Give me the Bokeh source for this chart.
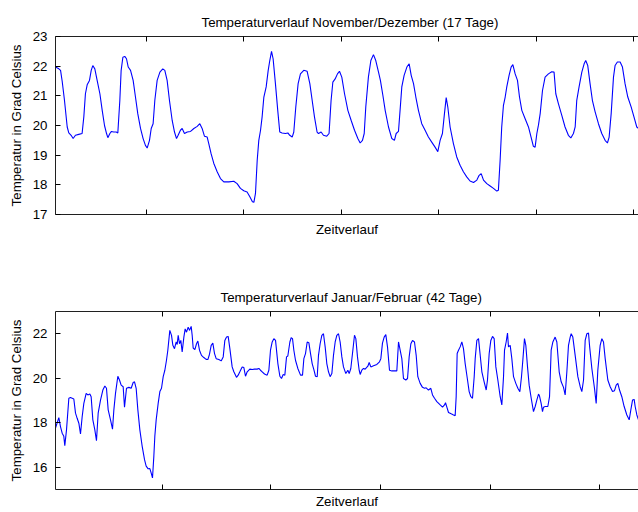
from bokeh.plotting import figure
from bokeh.models import LinearAxis, FixedTicker, Range1d
from bokeh.layouts import column
from bokeh.embed import file_html
from bokeh.resources import INLINE

# ---------------- data ----------------
nov_title = "Temperaturverlauf November/Dezember (17 Tage)"
jan_title = "Temperaturverlauf Januar/Februar (42 Tage)"
x_label = "Zeitverlauf"
y_label = "Temperatur in Grad Celsius"

# hours since start (17 days)
nov_hours = [
    0, 2.3, 3.5, 4.6, 6.2, 8.1, 9.2, 10.8, 12.2, 13.8,
    16.1, 18.4, 19.6, 20.7, 21.9, 23.5, 24.7, 25.8, 27.2, 28.8,
    30.7, 32.3, 33.9, 35.3, 36.2, 37.6, 38.7, 40.3, 42.0, 43.1,
    44.5, 45.4, 46.6, 47.9, 49.1, 50.3, 51.9, 53.7, 55.3, 56.9,
    58.8, 60.6, 62.2, 63.4, 65.0, 66.2, 67.5, 68.7, 70.3, 72.2,
    74.2, 75.6, 77.2, 78.8, 80.7, 82.3, 83.7, 84.8, 86.4, 87.6,
    89.2, 91.1, 93.4, 95.7, 98.0, 99.8, 101.4, 103.0, 104.9, 106.0,
    107.6, 109.5, 111.8, 114.1, 116.4, 119.9, 123.3, 125.6, 127.9, 130.2,
    132.5, 134.4, 136.2, 137.2, 138.3, 139.5, 140.6, 141.8, 142.9, 144.1,
    145.7, 147.1, 148.2, 149.4, 150.5, 152.1, 153.7, 155.1, 156.7, 159.0,
    160.7, 162.0, 163.7, 164.8, 166.2, 167.8, 169.4, 171.7, 174.0, 175.9,
    177.5, 179.1, 180.9, 181.9, 183.7, 185.3, 187.6, 189.2, 190.6, 191.8,
    193.4, 195.0, 196.4, 198.0, 199.9, 202.2, 204.5, 206.8, 209.1, 210.7,
    212.3, 213.5, 214.6, 216.4, 218.1, 219.9, 221.5, 223.4, 224.7, 226.4,
    228.0, 230.3, 232.6, 234.4, 235.6, 237.2, 238.3, 239.5, 241.1, 243.0,
    244.6, 246.0, 247.6, 249.2, 251.0, 253.3, 255.6, 257.9, 260.2, 262.5,
    264.4, 266.0, 267.6, 269.0, 270.2, 271.3, 272.9, 275.2, 277.5, 279.8,
    282.1, 284.4, 286.7, 289.1, 291.4, 293.0, 294.4, 296.0, 298.3, 300.6,
    302.9, 305.2, 306.3, 307.5, 308.6, 309.8, 311.0, 312.1, 313.7, 315.1,
    316.3, 317.9, 319.5, 320.9, 322.5, 324.8, 327.1, 328.9, 330.5, 331.7,
    332.9, 334.0, 335.2, 336.8, 338.6, 340.9, 343.2, 344.8, 346.0, 347.8,
    350.1, 352.4, 354.7, 356.4, 358.2, 359.4, 360.5, 362.1, 364.0, 365.6,
    366.7, 368.1, 369.7, 371.3, 373.2, 375.5, 377.8, 380.1, 381.7, 382.9,
    384.3, 385.9, 387.0, 388.6, 390.5, 392.1, 393.9, 395.8, 398.1, 400.4,
    402.0, 403.2,
]
nov_temp = [
    21.97, 21.91, 21.86, 21.50, 20.85, 19.95, 19.75, 19.67, 19.56, 19.67,
    19.70, 19.73, 20.30, 21.07, 21.37, 21.52, 21.86, 22.02, 21.91, 21.52,
    21.07, 20.51, 20.00, 19.73, 19.59, 19.73, 19.80, 19.78, 19.78, 19.75,
    20.85, 21.86, 22.30, 22.33, 22.25, 21.97, 21.86, 21.52, 20.96, 20.40,
    19.90, 19.56, 19.33, 19.24, 19.50, 19.90, 20.06, 20.85, 21.52, 21.80,
    21.91, 21.86, 21.52, 20.85, 20.17, 19.78, 19.56, 19.67, 19.84, 19.90,
    19.73, 19.78, 19.80, 19.90, 19.97, 20.06, 19.90, 19.64, 19.61, 19.39,
    19.05, 18.72, 18.44, 18.21, 18.10, 18.10, 18.12, 18.04, 17.88, 17.80,
    17.76, 17.60, 17.43, 17.41, 17.71, 18.83, 19.50, 19.84, 20.29, 20.96,
    21.30, 21.86, 22.19, 22.50, 22.25, 21.41, 20.51, 19.78, 19.75, 19.73,
    19.75, 19.67, 19.61, 19.78, 20.63, 21.41, 21.74, 21.86, 21.83, 21.41,
    20.85, 20.29, 19.78, 19.73, 19.78, 19.67, 19.64, 19.73, 20.85, 21.46,
    21.57, 21.74, 21.83, 21.63, 21.07, 20.51, 20.17, 19.84, 19.56, 19.41,
    19.50, 19.73, 20.63, 21.63, 22.19, 22.39, 22.19, 21.80, 21.52, 21.02,
    20.51, 19.95, 19.56, 19.50, 19.73, 19.80, 20.51, 21.30, 21.69, 21.97,
    22.08, 21.69, 21.41, 20.96, 20.51, 20.06, 19.84, 19.61, 19.44, 19.27,
    19.12, 19.50, 19.73, 20.40, 20.94, 20.63, 19.95, 19.39, 18.94, 18.66,
    18.44, 18.27, 18.13, 18.08, 18.16, 18.32, 18.38, 18.16, 18.04, 17.96,
    17.88, 17.79, 17.82, 18.83, 19.95, 20.68, 20.96, 21.30, 21.69, 21.97,
    22.05, 21.74, 21.52, 20.96, 20.51, 20.23, 19.95, 19.61, 19.30, 19.27,
    19.73, 20.01, 20.40, 21.18, 21.63, 21.74, 21.81, 21.80, 21.07, 20.74,
    20.35, 19.95, 19.67, 19.58, 19.73, 19.95, 20.85, 21.30, 21.80, 22.08,
    22.19, 22.02, 21.41, 20.85, 20.46, 20.06, 19.73, 19.50, 19.41, 19.61,
    20.40, 21.63, 22.02, 22.14, 22.14, 21.97, 21.41, 20.96, 20.63, 20.23,
    19.95, 19.90,
]

# hours since start (42 days)
jan_hours = [
    0, 5.7, 8.5, 11.4, 14.2, 15.9, 18.8, 22.8, 25.6, 28.5,
    31.3, 34.2, 37.0, 39.9, 42.7, 45.6, 48.4, 52.4, 55.2, 58.7,
    60.9, 63.8, 67.2, 70.0, 72.9, 76.9, 80.9, 84.3, 87.1, 90.0,
    94.0, 97.4, 99.7, 102.5, 106.5, 109.3, 112.2, 115.6, 117.9, 121.3,
    125.3, 129.3, 132.7, 135.0, 137.8, 140.7, 144.1, 148.1, 152.1, 154.9,
    158.3, 161.2, 163.4, 165.7, 168.0, 169.7, 172.0, 175.4, 178.3, 181.1,
    184.0, 186.8, 189.6, 191.9, 195.3, 198.2, 200.5, 203.3, 206.2, 207.9,
    209.6, 211.9, 214.1, 216.4, 219.3, 221.5, 223.8, 226.7, 228.9, 231.8,
    233.5, 235.2, 238.1, 240.9, 243.2, 246.0, 249.4, 253.4, 257.4, 260.3,
    263.1, 266.0, 268.8, 271.7, 274.5, 279.1, 283.0, 286.5, 289.3, 292.2,
    295.0, 297.9, 301.8, 304.7, 309.2, 312.1, 314.9, 318.9, 321.8, 324.6,
    327.5, 332.0, 336.0, 340.0, 344.5, 347.4, 350.2, 353.1, 357.1, 361.6,
    364.5, 367.3, 370.2, 373.0, 375.9, 379.9, 383.3, 386.1, 389.0, 391.8,
    394.7, 396.9, 400.4, 402.6, 404.9, 407.2, 410.0, 414.0, 418.6, 422.0,
    424.3, 427.1, 430.0, 432.8, 435.7, 438.5, 441.4, 444.2, 447.1, 449.3,
    452.1, 455.0, 457.8, 460.7, 463.5, 466.4, 469.2, 472.1, 474.9, 477.8,
    480.6, 483.5, 486.3, 489.2, 492.0, 496.0, 499.4, 501.7, 504.5, 508.0,
    510.8, 513.1, 515.9, 518.8, 520.5, 523.3, 526.2, 529.0, 533.6, 535.9,
    538.7, 543.3, 549.0, 553.5, 555.8, 558.6, 561.5, 564.3, 567.2, 570.6,
    574.6, 580.3, 583.1, 586.0, 587.7, 591.7, 594.5, 598.5, 601.4, 604.2,
    607.1, 609.9, 613.3, 616.2, 619.0, 623.0, 627.0, 630.4, 633.2, 637.2,
    641.2, 644.1, 647.5, 651.5, 657.2, 661.2, 664.6, 666.3, 668.6, 671.4,
    676.0, 680.0, 682.8, 684.5, 686.2, 688.5, 691.3, 694.2, 697.0, 699.9,
    703.9, 706.7, 709.6, 712.4, 715.3, 717.0, 719.8, 722.7, 725.0, 728.4,
    732.3, 735.8, 738.0, 740.9, 743.7, 746.6, 749.4, 752.3, 755.7, 759.7,
    762.5, 765.4, 767.1, 769.9, 772.2, 773.9, 776.8, 779.6, 782.5, 786.4,
    789.9, 793.3, 796.1, 798.4, 801.2, 803.5, 806.4, 809.2, 812.7, 816.6,
    819.5, 822.3, 825.2, 826.9, 829.7, 832.0, 833.7, 836.6, 841.1, 844.0,
    846.8, 849.7, 853.6, 856.5, 860.5, 863.9, 867.9, 870.7, 873.6, 876.4,
    879.3, 881.0, 883.8, 887.8, 892.4, 896.4, 899.2, 902.1, 904.9, 907.8,
    910.6, 912.3, 916.3, 920.8, 923.7, 926.5, 930.5, 933.4, 936.2, 939.1,
    943.6, 947.6, 951.6, 955.0, 957.9, 960.7, 963.6, 967.5, 971.5, 976.1,
    980.1, 982.9, 985.8, 988.6, 990.3, 993.2, 996.0,
]
jan_temp = [
    17.76, 18.23, 17.83, 17.53, 17.39, 16.97, 17.68, 19.10, 19.13, 19.10,
    19.07, 18.43, 18.20, 17.98, 17.50, 18.28, 18.87, 19.32, 19.25, 19.29,
    19.17, 18.13, 17.68, 17.19, 18.43, 19.02, 19.47, 19.65, 19.55, 18.58,
    18.13, 17.71, 18.58, 19.32, 20.09, 19.92, 19.69, 19.62, 18.70, 19.55,
    19.59, 19.55, 19.81, 19.84, 19.55, 18.58, 17.68, 16.94, 16.34, 16.05,
    15.93, 15.94, 15.75, 15.52, 16.49, 17.39, 18.13, 18.87, 19.40, 19.55,
    20.07, 20.36, 20.81, 21.26, 22.15, 21.93, 21.48, 21.33, 21.63, 21.52,
    21.93, 21.55, 21.70, 21.18, 21.85, 22.22, 22.07, 22.30, 22.15, 22.33,
    21.93, 21.36, 21.29, 21.55, 21.67, 21.26, 21.03, 20.93, 20.85, 20.84,
    21.08, 21.48, 21.58, 21.11, 20.88, 20.84, 20.78, 20.96, 21.70, 21.85,
    21.88, 21.33, 20.51, 20.29, 20.04, 20.14, 20.29, 20.51, 20.48, 20.09,
    20.29, 20.41, 20.39, 20.41, 20.41, 20.44, 20.36, 20.29, 20.19, 20.14,
    20.36, 21.26, 21.63, 21.78, 21.70, 20.66, 20.09, 19.99, 20.17, 20.14,
    20.96, 21.00, 21.63, 21.82, 21.78, 21.26, 20.81, 20.44, 20.14, 20.14,
    20.88, 21.11, 21.63, 21.60, 21.11, 20.66, 20.39, 20.09, 20.07, 21.03,
    21.55, 21.93, 22.00, 21.41, 20.66, 20.29, 20.07, 20.21, 21.03, 21.63,
    21.93, 22.00, 21.63, 20.96, 20.51, 20.21, 20.36, 20.21, 20.44, 21.26,
    21.93, 21.78, 20.96, 20.36, 20.17, 20.36, 20.44, 20.41, 20.54, 20.71,
    20.51, 20.56, 20.62, 20.74, 20.88, 21.58, 21.85, 21.96, 21.41, 20.36,
    20.33, 20.33, 20.33, 21.63, 21.41, 20.88, 19.99, 19.92, 19.99, 20.96,
    21.55, 21.70, 21.63, 21.03, 20.07, 19.77, 19.59, 19.55, 19.57, 19.47,
    19.55, 19.25, 19.10, 18.95, 18.80, 18.70, 18.80, 18.90, 18.70, 18.46,
    18.40, 18.35, 18.32, 19.17, 21.11, 21.26, 21.41, 21.63, 21.33, 20.66,
    19.92, 19.40, 19.17, 19.10, 20.07, 20.88, 21.70, 21.78, 21.18, 20.29,
    19.84, 19.47, 19.92, 21.11, 21.70, 21.88, 21.78, 20.51, 19.92, 19.17,
    18.80, 20.07, 21.26, 21.63, 22.03, 21.41, 21.48, 20.88, 20.07, 19.77,
    19.55, 19.40, 20.07, 20.81, 21.78, 21.48, 20.51, 19.69, 19.10, 18.50,
    18.73, 19.02, 19.29, 19.20, 18.87, 18.50, 18.70, 18.73, 18.73, 19.17,
    21.26, 21.63, 21.85, 21.63, 20.29, 19.84, 19.59, 19.25, 20.29, 21.48,
    21.85, 22.00, 21.85, 21.03, 20.07, 19.62, 19.40, 19.92, 21.70, 22.00,
    22.03, 21.48, 20.44, 19.55, 18.87, 20.36, 21.48, 21.78, 21.63, 20.88,
    19.92, 19.62, 19.40, 19.44, 19.69, 19.77, 19.47, 19.17, 18.73, 18.35,
    18.13, 18.58, 19.02, 19.05, 18.73, 18.35, 18.13,
]

nov_xticks = [63, 130, 198, 265, 333, 400]
jan_xticks = [182, 368, 556, 743, 929]
nov_yticks = [17, 18, 19, 20, 21, 22, 23]
jan_yticks = [16, 18, 20, 22]

FONT = "Liberation Sans"


def style_axis(ax, ticks, hide_labels):
    ax.ticker = FixedTicker(ticks=ticks)
    ax.major_tick_in = 5
    ax.major_tick_out = 0
    ax.minor_tick_in = 0
    ax.minor_tick_out = 0
    ax.axis_line_color = "#202020"
    ax.axis_line_width = 1
    ax.major_tick_line_color = "black"
    ax.major_label_text_font = FONT
    ax.major_label_text_font_size = "13.3px"
    ax.major_label_text_color = "black"
    ax.axis_label_text_font = FONT
    ax.axis_label_text_font_size = "13.3px"
    ax.axis_label_text_font_style = "normal"
    ax.axis_label_text_color = "black"
    if hide_labels:
        ax.major_label_overrides = {t: "" for t in ticks}
        ax.major_label_standoff = 0


def make_plot(title, title_offset, title_standoff, xs, ys, xmax, xticks, ymin, ymax, yticks,
              height, top, bottom, xlab_standoff):
    p = figure(width=638, height=height, output_backend="svg", toolbar_location=None,
               x_range=Range1d(0, xmax), y_range=Range1d(ymin, ymax),
               min_border_left=55, min_border_right=0,
               min_border_top=top, min_border_bottom=bottom)
    p.outline_line_color = None
    p.grid.visible = False
    p.background_fill_color = "white"
    p.border_fill_color = "white"
    p.line(xs, ys, line_color="#0000ff", line_width=1.1)

    style_axis(p.xaxis[0], xticks, True)
    p.xaxis[0].axis_label = x_label
    p.xaxis[0].axis_label_standoff = xlab_standoff

    above = LinearAxis()
    style_axis(above, xticks, True)
    p.add_layout(above, "above")

    style_axis(p.yaxis[0], yticks, False)
    p.yaxis[0].major_label_standoff = 8
    p.yaxis[0].axis_label = y_label
    p.yaxis[0].axis_label_standoff = 6

    p.title.text = title
    p.title.align = "left"
    p.title.offset = title_offset
    p.title.text_font = FONT
    p.title.text_font_size = "13.3px"
    p.title.text_font_style = "normal"
    p.title.text_color = "black"
    p.title.standoff = title_standoff
    return p


p1 = make_plot(nov_title, 146, 14, nov_hours, nov_temp, 403.2, nov_xticks, 17, 23, nov_yticks,
               250, 36, 36, 7)
p2 = make_plot(jan_title, 165, 14, jan_hours, jan_temp, 996, jan_xticks, 15, 23, jan_yticks,
               262, 61, 23, 4)

layout = column(p1, p2, spacing=0)
open("out.html", "w").write(file_html(layout, INLINE))
